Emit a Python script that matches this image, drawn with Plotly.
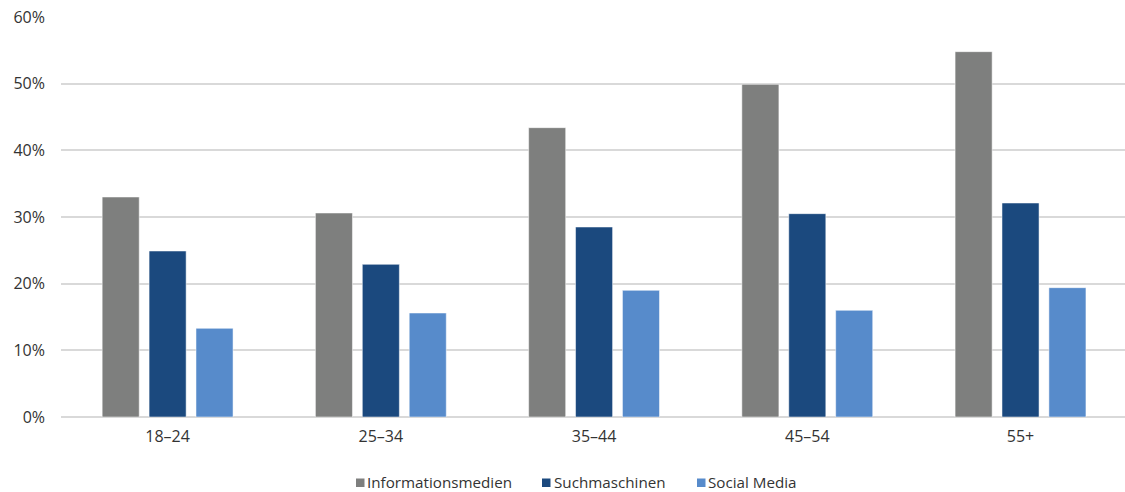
import plotly.graph_objects as go

categories = ["18–24", "25–34", "35–44", "45–54", "55+"]
informationsmedien = [33.0, 30.6, 43.4, 49.9, 54.8]
suchmaschinen = [24.9, 22.9, 28.5, 30.5, 32.1]
social_media = [13.3, 15.6, 19.0, 16.0, 19.4]
tick_vals = [0, 10, 20, 30, 40, 50, 60]
tick_text = ["0%", "10%", "20%", "30%", "40%", "50%", "60%"]

series_names = ["Informationsmedien", "Suchmaschinen", "Social Media"]
series_colors = ["#7e7f7e", "#1b497e", "#578bcb"]
series_values = [informationsmedien, suchmaschinen, social_media]

W, H = 1125, 492
ML, MR, MT, MB = 61, 0, 17, 75
PW, PH = W - ML - MR, H - MT - MB

fig = go.Figure()
for name, vals, color in zip(series_names, series_values, series_colors):
    fig.add_trace(go.Bar(
        x=categories, y=vals, name=name, showlegend=False,
        marker=dict(color=color, line=dict(color="rgba(255,255,255,0.5)", width=1)),
    ))

# manual legend (swatch + label), positioned in paper coordinates
legend_px = [(356, 365), (542, 552), (697, 706)]
shapes, annotations = [], []
for (sx, tx), name, color in zip(legend_px, series_names, series_colors):
    x0 = (sx - ML) / PW
    x1 = (sx + 8.5 - ML) / PW
    y0 = (MT + PH - 487) / PH
    y1 = (MT + PH - 478.5) / PH
    shapes.append(dict(type="rect", xref="paper", yref="paper", x0=x0, x1=x1, y0=y0, y1=y1,
                       fillcolor=color, line=dict(width=0)))
    annotations.append(dict(xref="paper", yref="paper", x=(tx - ML) / PW,
                            y=(MT + PH - 482) / PH, xanchor="left", yanchor="middle",
                            text=name, showarrow=False,
                            font=dict(size=15.2, color="#333333")))

fig.update_layout(
    width=W, height=H,
    margin=dict(l=ML, r=MR, t=MT, b=MB, autoexpand=False),
    paper_bgcolor="white", plot_bgcolor="white",
    font=dict(family="Open Sans, Noto Sans, sans-serif", size=16, color="#333333"),
    barmode="group", bargap=0.34, bargroupgap=0.21,
    showlegend=False,
    shapes=shapes, annotations=annotations,
    xaxis=dict(showgrid=False, showline=False, ticks="", tickfont=dict(size=16),
               ticklabelstandoff=8, range=[-0.5, 4.49]),
    yaxis=dict(range=[0, 60], tickvals=tick_vals, ticktext=tick_text,
               showgrid=True, gridcolor="#d9d9d9", gridwidth=1.5,
               zeroline=True, zerolinecolor="#d9d9d9", zerolinewidth=2,
               showline=False, ticks="", ticklabelstandoff=15, tickfont=dict(size=16)),
)

fig.write_html(
    "out.html",
    config={"displayModeBar": False},
    post_script="document.body.style.margin='0';document.body.style.overflow='hidden';",
)
